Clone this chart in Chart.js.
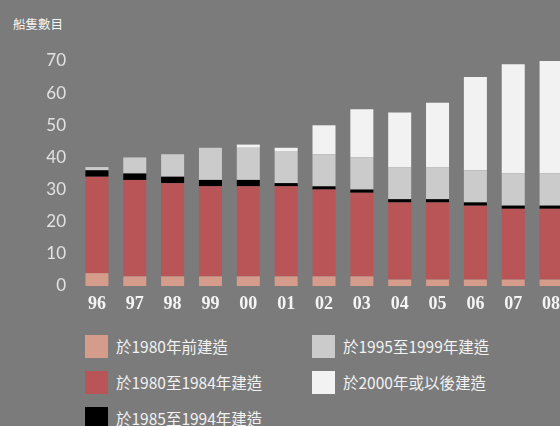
<!DOCTYPE html>
<html lang="zh-Hant">
<head>
    <meta charset="UTF-8">
    <title>船隻數目</title>
    <script src="https://cdn.jsdelivr.net/npm/chart.js"></script>
    <style>
        body { margin: 0; width: 560px; height: 426px; overflow: hidden; background: #7b7b7b; position: relative; font-family: "Noto Sans CJK TC", "Noto Sans", sans-serif; }
        #title { position: absolute; left: 13px; top: 14px; font-size: 12.5px; color: #f4f4f4; }
        #wrap { position: absolute; left: 0; top: 0; width: 570px; height: 320px; }
        #legend { position: absolute; left: 85px; top: 335px; display: grid; grid-auto-flow: column; grid-template-rows: repeat(3, 36px); grid-template-columns: 227px 227px; }
        .item { display: flex; align-items: flex-start; }
        .box { width: 23px; height: 23px; margin-right: 8px; }
        .lbl { font-size: 15.5px; color: #f2f2f2; line-height: 23px; }
    </style>
</head>
<body>
<div id="title">船隻數目</div>
<div id="wrap"><canvas id="chart" width="570" height="320"></canvas></div>
<div id="legend"></div>

<script>
const years = ['96', '97', '98', '99', '00', '01', '02', '03', '04', '05', '06', '07', '08'];
const yTicks = [0, 10, 20, 30, 40, 50, 60, 70];

// ships by build year
const before1980 = [4, 3, 3, 3, 3, 3, 3, 3, 2, 2, 2, 2, 2];
const built1980to84 = [30, 30, 29, 28, 28, 28, 27, 26, 24, 24, 23, 22, 22];
const built1985to94 = [2, 2, 2, 2, 2, 1, 1, 1, 1, 1, 1, 1, 1];
const built1995to99 = [1, 5, 7, 10, 10, 10, 10, 10, 10, 10, 10, 10, 10];
const built2000on = [0, 0, 0, 0, 1, 1, 9, 15, 17, 20, 29, 34, 35];

const seriesNames = ['於1980年前建造', '於1980至1984年建造', '於1985至1994年建造', '於1995至1999年建造', '於2000年或以後建造'];
const seriesColors = ['#d59c8c', '#b95457', '#000000', '#cbcbcb', '#f2f2f2'];
const seriesData = [before1980, built1980to84, built1985to94, built1995to99, built2000on];

const ctx = document.getElementById('chart').getContext('2d');
const chart = new Chart(ctx, {
    type: 'bar',
    data: {
        labels: years,
        datasets: seriesData.map((d, i) => ({
            label: seriesNames[i],
            data: d,
            backgroundColor: seriesColors[i],
            borderWidth: 0,
            categoryPercentage: 1,
            barPercentage: 0.608
        }))
    },
    options: {
        responsive: false,
        animation: false,
        layout: { padding: { top: 61, left: 0, right: 0, bottom: 0 } },
        plugins: {
            legend: { display: false },
            tooltip: { enabled: false }
        },
        scales: {
            x: {
                stacked: true,
                grid: { display: false, drawTicks: false },
                border: { display: false },
                ticks: {
                    color: '#f4f4f4',
                    padding: 8,
                    font: { family: 'Liberation Serif', size: 18, weight: 'bold' }
                },
                afterFit: s => { s.height = 34; }
            },
            y: {
                stacked: true,
                min: yTicks[0],
                max: yTicks[yTicks.length - 1],
                afterBuildTicks: s => { s.ticks = yTicks.map(v => ({ value: v })); },
                grid: { display: false, drawTicks: false },
                border: { display: false },
                ticks: {
                    color: '#e2e2e2',
                    padding: 12,
                    font: { family: 'Lato', size: 17 }
                },
                afterFit: s => { s.width = 78; }
            }
        }
    }
});

// legend in two columns, filled top to bottom
const legend = document.getElementById('legend');
chart.data.datasets.forEach(ds => {
    const item = document.createElement('div');
    item.className = 'item';
    item.innerHTML = '<div class="box" style="background:' + ds.backgroundColor + '"></div><span class="lbl">' + ds.label + '</span>';
    legend.appendChild(item);
});
</script>

</body>
</html>
